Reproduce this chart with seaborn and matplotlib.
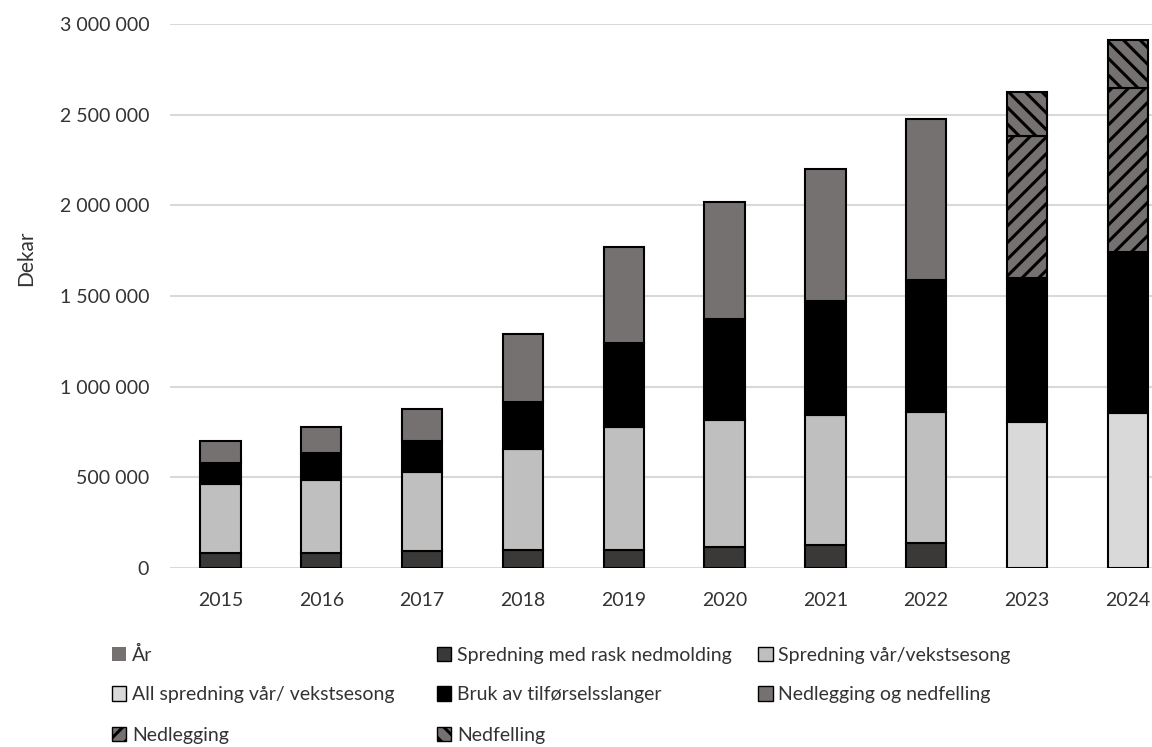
import matplotlib
matplotlib.use("Agg")
import matplotlib.pyplot as plt
from matplotlib.patches import Patch
from matplotlib.ticker import FuncFormatter
import numpy as np
import seaborn as sns

sns.set_style("white")
plt.rcParams['font.family'] = ['Lato', 'DejaVu Sans']
plt.rcParams['hatch.linewidth'] = 2.2
plt.rcParams['hatch.color'] = 'black'

years = ['2015', '2016', '2017', '2018', '2019', '2020', '2021', '2022', '2023', '2024']
# dekar per method (NaN = not in series that year)
rask = [84000, 84000, 94000, 100000, 100000, 118000, 127000, 136000, np.nan, np.nan]
var_veks = [379000, 401000, 437000, 555000, 675000, 698000, 717000, 726000, np.nan, np.nan]
all_var = [np.nan] * 8 + [805000, 857000]
slanger = [114000, 147000, 170000, 260000, 465000, 557000, 630000, 726000, 795000, 887000]
ned_og = [125000, 144000, 177000, 375000, 530000, 645000, 726000, 888000, np.nan, np.nan]
nedlegging = [np.nan] * 8 + [780000, 902000]
nedfelling = [np.nan] * 8 + [245000, 264000]

series = [
    ('Spredning med rask nedmolding', rask, '#3b3838', None),
    ('Spredning vår/vekstsesong', var_veks, '#bfbfbf', None),
    ('All spredning vår/ vekstsesong', all_var, '#d9d9d9', None),
    ('Bruk av tilførselsslanger', slanger, '#000000', None),
    ('Nedlegging og nedfelling', ned_og, '#767171', None),
    ('Nedlegging', nedlegging, '#767171', '//'),
    ('Nedfelling', nedfelling, '#767171', '\\\\'),
]

fig = plt.figure(figsize=(11.52, 7.47), dpi=100)
ax = fig.add_axes([0.1476, 0.2396, 0.8524, 0.7283])

bottom = np.zeros(len(years))
for name, vals, col, hatch in series:
    v = np.array(vals, dtype=float)
    h = np.nan_to_num(v)
    mask = ~np.isnan(v)
    xs = [y for y, m in zip(years, mask) if m]
    sns.barplot(x=xs, y=h[mask], bottom=bottom[mask], order=years, color=col,
                edgecolor='black', linewidth=1.5, width=0.4, hatch=hatch,
                saturation=1, ax=ax, zorder=3)
    bottom = bottom + h

ax.set_xlim(-0.5, 9.24)
ax.set_ylim(0, 3000000)
ax.set_yticks(np.arange(0, 3000001, 500000))
ax.yaxis.set_major_formatter(FuncFormatter(lambda v, p: f'{int(v):,}'.replace(',', ' ')))
ax.grid(axis='y', color='#d9d9d9', linewidth=1.5, zorder=0)
ax.set_axisbelow(True)
for s in ax.spines.values():
    s.set_visible(False)
ax.tick_params(axis='both', length=0, labelsize=14, labelcolor='#333333')
ax.tick_params(axis='y', pad=15)
ax.tick_params(axis='x', pad=17)
ax.set_xlabel('')
ax.set_ylabel('Dekar', fontsize=15, color='#333333')
ax.yaxis.set_label_coords(-0.136, 0.57)

handles = [
    Patch(facecolor='#767171', edgecolor='none', label='År'),
    Patch(facecolor='#3b3838', edgecolor='black', label='Spredning med rask nedmolding'),
    Patch(facecolor='#bfbfbf', edgecolor='black', label='Spredning vår/vekstsesong'),
    Patch(facecolor='#d9d9d9', edgecolor='black', label='All spredning vår/ vekstsesong'),
    Patch(facecolor='#000000', edgecolor='black', label='Bruk av tilførselsslanger'),
    Patch(facecolor='#767171', edgecolor='black', label='Nedlegging og nedfelling'),
    Patch(facecolor='#767171', edgecolor='black', hatch='//', label='Nedlegging'),
    Patch(facecolor='#767171', edgecolor='black', hatch='\\\\', label='Nedfelling'),
]
xs_leg = [0.097, 0.379, 0.658]
ys_leg = [0.123, 0.070, 0.016]
for i, hnd in enumerate(handles):
    r, c = divmod(i, 3)
    fig.legend(handles=[hnd], loc='center left', bbox_to_anchor=(xs_leg[c], ys_leg[r]),
               frameon=False, fontsize=14, handlelength=0.75, handleheight=0.75,
               handletextpad=0.3, borderaxespad=0, borderpad=0,
               labelcolor='#333333')

fig.savefig('out.png', dpi=100)
